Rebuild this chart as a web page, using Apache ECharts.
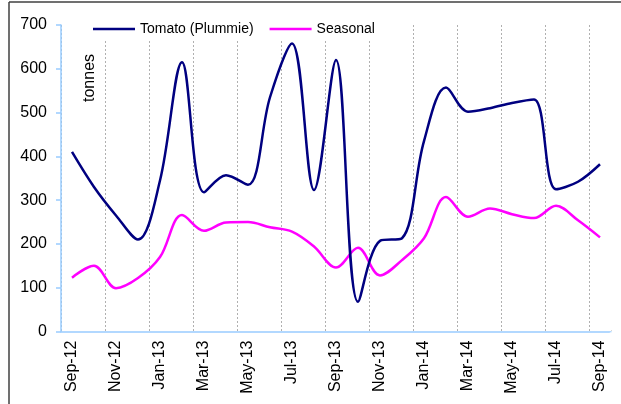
<!DOCTYPE html>
<html>
<head>
<meta charset="utf-8">
<script src="https://cdn.jsdelivr.net/npm/echarts@6/dist/echarts.min.js"></script>
<style>html,body{margin:0;padding:0;background:#fff}#c{width:621px;height:404px}</style>
</head>
<body>
<div id="c"></div>
<script>
const months = ['Sep-12','Oct-12','Nov-12','Dec-12','Jan-13','Feb-13','Mar-13','Apr-13','May-13','Jun-13','Jul-13','Aug-13','Sep-13','Oct-13','Nov-13','Dec-13','Jan-14','Feb-14','Mar-14','Apr-14','May-14','Jun-14','Jul-14','Aug-14','Sep-14'];
const tomato = [410, 330, 265, 210, 345, 615, 318, 357, 335, 535, 658, 323, 620, 68, 207, 213, 435, 557, 502, 510, 522, 530, 325, 342, 382];
const seasonal = [123, 150, 99, 122, 170, 266, 230, 249, 250, 238, 228, 194, 146, 191, 128, 163, 213, 307, 262, 281, 268, 259, 287, 254, 215];
const yTicks = {min: 0, max: 700, interval: 100};
const FONT = '"Liberation Sans", Arial, sans-serif';

const chart = echarts.init(document.getElementById('c'), null, {renderer: 'canvas'});
chart.setOption({
  animation: false,
  backgroundColor: '#fff',
  grid: {left: 61, right: 10, top: 25, bottom: 72.5, containLabel: false},
  legend: {
    left: 93, top: 19,
    icon: 'rect',
    itemWidth: 42, itemHeight: 2.5, itemGap: 16,
    backgroundColor: '#fff', padding: [3, 4, 4, 0],
    textStyle: {fontFamily: FONT, fontSize: 14, color: '#000'},
    data: ['Tomato (Plummie)', 'Seasonal']
  },
  xAxis: {
    type: 'category', data: months, boundaryGap: true,
    axisLine: {lineStyle: {color: '#99CCFF', width: 1.5}},
    axisTick: {interval: 1, length: 6, lineStyle: {color: '#99CCFF', width: 1.5}},
    axisLabel: {interval: 1, rotate: 90, margin: 9, fontFamily: FONT, fontSize: 16, color: '#000'},
    splitLine: {show: true, interval: 1,
                lineStyle: {color: '#B0B0B0', type: [2, 2], width: 1}}
  },
  yAxis: {
    type: 'value', min: yTicks.min, max: yTicks.max, interval: yTicks.interval,
    axisLine: {show: true, lineStyle: {color: '#99CCFF', width: 1.5}},
    axisTick: {show: true, length: 5, lineStyle: {color: '#99CCFF', width: 1.5}},
    axisLabel: {margin: 14, fontFamily: FONT, fontSize: 16, color: '#000'},
    splitLine: {show: false}
  },
  series: [
    {name: 'Tomato (Plummie)', type: 'line', data: tomato, smooth: 0.35, symbol: 'none',
     lineStyle: {color: '#000080', width: 2.5}, itemStyle: {color: '#000080'}, z: 3},
    {name: 'Seasonal', type: 'line', data: seasonal, smooth: 0.35, symbol: 'none',
     lineStyle: {color: '#FF00FF', width: 2.5}, itemStyle: {color: '#FF00FF'}, z: 2}
  ],
  graphic: {
    elements: [
      {type: 'rect', left: 604, top: 18, z: 100, shape: {width: 14, height: 312.5}, style: {fill: '#fff'}},
      {type: 'rect', left: 609.8, top: 332.4, z: 100, shape: {width: 6, height: 8}, style: {fill: '#fff'}},
      {type: 'text', z: 100, x: 82, y: 102, rotation: Math.PI / 2,
       style: {text: 'tonnes', font: '16px ' + FONT, fill: '#000'}},
      {type: 'line', z: 100, shape: {x1: 9, y1: 2, x2: 621, y2: 2}, style: {stroke: '#404040', lineWidth: 1.5}},
      {type: 'line', z: 100, shape: {x1: 9, y1: 2, x2: 9, y2: 404}, style: {stroke: '#404040', lineWidth: 1.5}}
    ]
  }
});
</script>
</body>
</html>
